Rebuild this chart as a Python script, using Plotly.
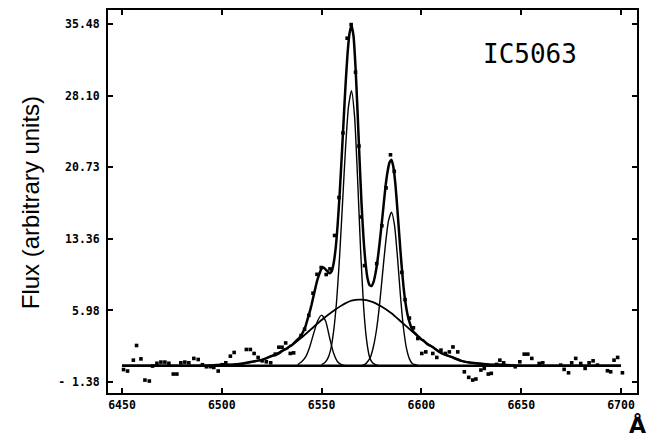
import plotly.graph_objects as go

data_wl = [6450.8, 6452.8, 6455.7, 6457.3, 6459.5, 6461.5, 6463.7, 6465.3, 6467.5, 6469.5,
           6471.5, 6473.5, 6475.7, 6477.5, 6479.5, 6481.5, 6483.5, 6486.0, 6488.2, 6490.3,
           6492.3, 6494.3, 6496.0, 6498.2, 6500.2, 6502.0, 6504.3, 6506.2, 6512.3, 6514.3,
           6516.2, 6518.2, 6520.2, 6522.3, 6524.5, 6526.8, 6528.6, 6530.2, 6532.0, 6534.3,
           6536.0, 6539.7, 6541.5, 6543.6, 6545.7, 6547.7, 6549.8, 6552.3, 6554.2, 6556.5,
           6558.7, 6560.7, 6562.8, 6564.8, 6567.0, 6568.7, 6569.8, 6571.5, 6577.6, 6580.2,
           6582.3, 6584.5, 6586.4, 6590.2, 6591.8, 6594.0, 6596.0, 6598.2, 6600.2, 6602.2,
           6605.7, 6607.7, 6609.8, 6612.0, 6614.0, 6615.8, 6618.2, 6621.5, 6623.7, 6625.7,
           6627.3, 6629.8, 6631.5, 6633.5, 6635.0, 6637.7, 6639.3, 6641.2, 6647.0, 6649.3,
           6651.5, 6653.3, 6655.3, 6659.0, 6660.8, 6669.8, 6671.5, 6673.7, 6675.3, 6677.3,
           6679.8, 6682.0, 6684.0, 6686.0, 6688.2, 6693.2, 6694.8, 6696.5, 6698.3, 6700.7]
data_flux = [-0.10, -0.25, 0.87, 2.38, 1.00, -1.18, -1.28, 0.26, 0.55, 0.67,
             0.67, 0.55, -0.56, -0.56, 0.60, 0.67, 0.60, 1.05, 0.94, 0.40,
             0.19, 0.20, 0.12, -0.25, 0.40, 0.60, 1.28, 1.66, 1.97, 1.97,
             1.56, 1.15, 0.80, 0.70, 0.60, 1.49, 2.20, 2.20, 2.64, 1.56,
             1.62, 3.40, 4.05, 5.48, 7.76, 9.70, 10.40, 9.68, 10.26, 13.70,
             17.60, 24.25, 34.00, 35.40, 30.50, 22.90, 15.60, 10.60, 10.80, 14.70,
             18.60, 22.00, 20.30, 9.90, 7.10, 5.20, 4.20, 3.10, 1.56, 1.72,
             1.56, 1.15, 1.90, 1.56, 1.72, 2.23, 1.72, -0.33, -0.90, -1.18,
             -1.07, -0.15, 0.02, -0.56, -0.49, 0.43, 0.87, 0.60, 0.19, 0.70,
             1.49, 1.49, 1.05, 0.53, 0.60, 0.36, -0.08, -0.43, 0.60, 1.05,
             0.53, 0.02, 0.60, 0.80, 0.36, -0.22, -0.33, 0.87, 1.15, -0.43]

# ---- fitted total profile ----
fit_wl = [6450, 6470, 6490, 6500, 6505, 6510, 6515, 6520, 6525,
          6527, 6528, 6529, 6530, 6531, 6532, 6533, 6534, 6535, 6536,
          6537, 6538, 6539, 6540, 6541, 6542, 6543, 6544, 6545, 6546,
          6547, 6548, 6549, 6550, 6551, 6552, 6553, 6554, 6555, 6556,
          6557, 6558, 6559, 6560, 6561, 6562, 6563, 6564, 6565, 6566,
          6567, 6568, 6569, 6570, 6571, 6572, 6573, 6574, 6575, 6576,
          6577, 6578, 6579, 6580, 6581, 6582, 6583, 6584, 6585, 6586,
          6587, 6588, 6589, 6590, 6591, 6592, 6593, 6594, 6595, 6596,
          6597, 6598, 6599, 6600, 6601, 6602, 6603,
          6605, 6610, 6615, 6620, 6625, 6630, 6635, 6640, 6650, 6660, 6680, 6700]
fit_flux = [0.3, 0.3, 0.3, 0.4, 0.4, 0.5, 0.7, 0.9, 1.3,
            1.4, 1.5, 1.6, 1.8, 1.9, 2.0, 2.1, 2.3, 2.4, 2.6,
            2.8, 3.0, 3.2, 3.5, 3.9, 4.4, 5.1, 5.8, 6.6, 7.5,
            8.4, 9.2, 9.8, 10.3, 10.4, 10.2, 10.0, 9.8, 10.0, 10.8,
            12.3, 14.7, 17.8, 21.5, 25.4, 29.2, 32.4, 34.5, 35.3, 34.2,
            31.0, 26.5, 21.6, 17.0, 13.4, 10.9, 9.3, 8.6, 8.5, 8.9,
            9.8, 11.1, 12.8, 14.7, 16.7, 18.7, 20.2, 21.2, 21.5, 20.7,
            18.9, 16.3, 13.5, 10.8, 8.5, 6.8, 5.6, 4.8, 4.2, 3.8,
            3.6, 3.4, 3.2, 3.0, 2.9, 2.7, 2.5,
            2.3, 1.6, 1.2, 0.8, 0.6, 0.5, 0.4, 0.4, 0.3, 0.3, 0.3, 0.3]

# ---- individual components ----
c6548_wl = [6538, 6540, 6542, 6544, 6546, 6548, 6550, 6552, 6554, 6556, 6558, 6560, 6562]
c6548_flux = [0.4, 0.7, 1.2, 2.2, 3.6, 4.9, 5.5, 4.9, 3.2, 1.6, 0.7, 0.4, 0.3]
ha_wl = [6550, 6551.5, 6553, 6554.5, 6556, 6557.5, 6559, 6560.5, 6562, 6563.5, 6565,
         6566.5, 6568, 6569.5, 6571, 6572.5, 6574, 6575.5, 6577, 6578.5, 6580]
ha_flux = [0.4, 0.6, 1.0, 1.9, 3.8, 6.9, 11.5, 17.1, 22.7, 27.0, 28.6,
           26.0, 19.7, 12.4, 6.5, 3.0, 1.2, 0.6, 0.4, 0.3, 0.3]
n6584_wl = [6570, 6571.5, 6573, 6574.5, 6576, 6577.5, 6579, 6580.5, 6582, 6583.5, 6585,
            6586.5, 6588, 6589.5, 6591, 6592.5, 6594, 6595.5, 6597, 6598.5, 6600]
n6584_flux = [0.3, 0.4, 0.7, 1.2, 2.3, 4.0, 6.5, 9.7, 12.8, 15.2, 16.1,
              14.8, 11.5, 7.5, 4.2, 2.1, 1.0, 0.5, 0.4, 0.3, 0.3]
broad_wl = [6490, 6495, 6500, 6505, 6510, 6515, 6520, 6525, 6530, 6535, 6540,
            6545, 6550, 6555, 6560, 6565, 6570, 6575, 6580, 6585, 6590, 6595,
            6600, 6605, 6610, 6615, 6620, 6625, 6630, 6635, 6640, 6645, 6650]
broad_flux = [0.3, 0.3, 0.4, 0.4, 0.5, 0.7, 0.9, 1.3, 1.8, 2.4, 3.2,
              4.1, 5.0, 5.8, 6.5, 7.0, 7.1, 6.9, 6.4, 5.7, 4.8, 3.9,
              3.0, 2.3, 1.6, 1.2, 0.8, 0.6, 0.5, 0.4, 0.4, 0.3, 0.3]
cont_wl = [6450, 6700]
cont_flux = [0.3, 0.3]

x_ticks = [6450, 6500, 6550, 6600, 6650, 6700]
x_ticktext = ["6450", "6500", "6550", "6600", "6650", "6700"]
y_ticks = [-1.38, 5.98, 13.36, 20.73, 28.10, 35.48]
y_ticktext = ["- 1.38", "5.98", "13.36", "20.73", "28.10", "35.48"]

fig = go.Figure()
fig.add_trace(go.Scatter(x=cont_wl, y=cont_flux, mode="lines",
                         line=dict(color="black", width=2.6), hoverinfo="skip"))
for wl, fl in [(c6548_wl, c6548_flux), (ha_wl, ha_flux), (n6584_wl, n6584_flux)]:
    fig.add_trace(go.Scatter(x=wl, y=fl, mode="lines",
                             line=dict(color="black", width=1.4, shape="spline", smoothing=0.6)))
fig.add_trace(go.Scatter(x=broad_wl, y=broad_flux, mode="lines",
                         line=dict(color="black", width=1.8, shape="spline", smoothing=0.6)))
fig.add_trace(go.Scatter(x=fit_wl, y=fit_flux, mode="lines",
                         line=dict(color="black", width=2.5, shape="spline", smoothing=0.5)))
fig.add_trace(go.Scatter(x=data_wl, y=data_flux, mode="markers",
                         marker=dict(symbol="square", size=3.6, color="black", line=dict(width=0))))

tickfont = dict(family="DejaVu Sans Mono", size=11.5, color="black")
fig.update_layout(
    width=647, height=440,
    margin=dict(l=108, r=9, t=8, b=47),
    showlegend=False,
    plot_bgcolor="white", paper_bgcolor="white",
    xaxis=dict(range=[6443, 6708], tickvals=x_ticks, ticktext=["<b>%s</b>" % t for t in x_ticktext],
               ticks="inside", ticklen=5, tickwidth=1.5, tickcolor="black",
               showline=True, linewidth=2, linecolor="black", mirror="ticks",
               showgrid=False, zeroline=False, tickfont=tickfont, ticklabelstandoff=0),
    yaxis=dict(range=[-2.51, 36.9], tickvals=y_ticks, ticktext=["<b>%s</b>" % t for t in y_ticktext],
               ticks="inside", ticklen=5, tickwidth=1.5, tickcolor="black",
               showline=True, linewidth=2, linecolor="black", mirror="ticks",
               showgrid=False, zeroline=False, tickfont=tickfont, ticklabelstandoff=4),
    yaxis2=dict(range=[-2.51, 36.9], tickvals=y_ticks, overlaying="y", side="left",
                ticks="outside", ticklen=4, tickwidth=1.5, tickcolor="black",
                showticklabels=False, showline=False, showgrid=False, zeroline=False),
    annotations=[
        dict(text="Flux (arbitrary units)", xref="paper", yref="paper", x=-0.147, y=0.496,
             textangle=-90, showarrow=False, xanchor="center", yanchor="middle",
             font=dict(family="Liberation Sans", size=24, color="black")),
        dict(text="IC5063", xref="paper", yref="paper", x=0.798, y=0.885,
             showarrow=False, xanchor="center", yanchor="middle",
             font=dict(family="DejaVu Sans Mono", size=26, color="black")),
        dict(text="<b>Å</b>", xref="paper", yref="paper", x=1.0, y=-0.0857,
             showarrow=False, xanchor="center", yanchor="middle",
             font=dict(family="DejaVu Sans", size=22, color="black")),
    ],
)
fig.write_html("out.html")
